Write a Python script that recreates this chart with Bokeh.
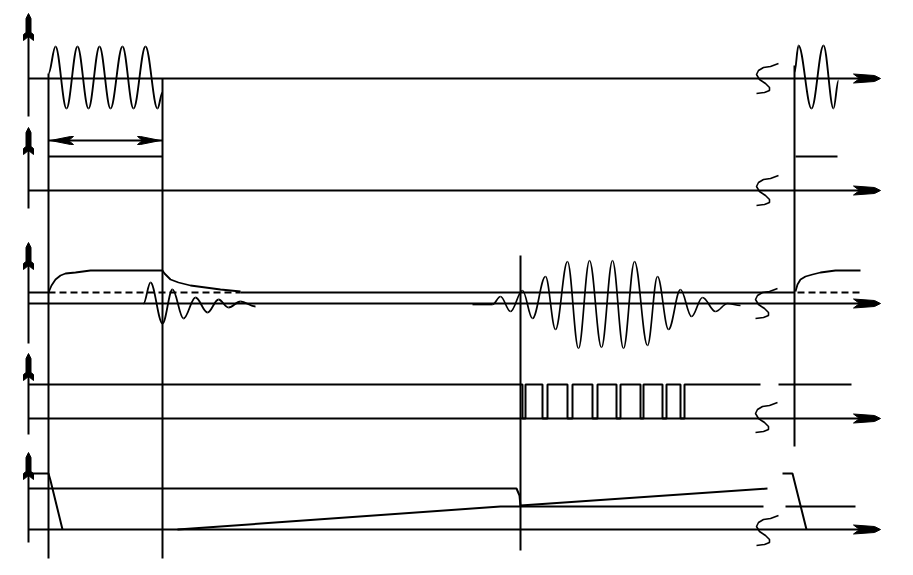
from bokeh.plotting import figure
from bokeh.models import Range1d
from bokeh.embed import file_html
from bokeh.resources import INLINE

# ---------------- data (diagram units: x = time, y = level, y grows downward) ----------------
axis_x = 28
arrow_end_x = 880
# channel: top of vertical axis, bottom of vertical axis, baseline
ch_top = [13, 127, 242, 353, 452]
ch_bottom = [116, 208, 343, 434, 542]
ch_base = [78, 190, 303, 418, 529]
break_x = [767, 767, 766, 766, 767]
break_y = [78, 190, 303, 417, 530]

# timing marker verticals (x, y_from, y_to)
mark_x = [48, 162, 520, 794]
mark_y0 = [73, 78, 255, 65]
mark_y1 = [558, 558, 550, 446]

# channel 1: transmit bursts (extrema)
tx1_x = [48, 55, 66, 77, 88, 99, 110, 122, 133, 145, 157, 162]
tx1_y = [73, 46, 108, 46, 108, 46, 108, 46, 108, 46, 108, 92]
tx2_x = [794, 798, 811, 823, 833, 838]
tx2_y = [72, 45, 108, 45, 108, 80]

# channel 2: gate level + width arrow
gate_x = [48, 162]
gate_y = [156, 156]
gate2_x = [795, 837]
gate2_y = [156, 156]
width_arrow_y = 140

# channel 3: envelope / ringing / echo burst
env1_x = [48, 51, 55, 60, 65, 75, 90, 162]
env1_y = [292, 285, 279, 275, 273, 272, 270, 270]
decay_x = [162, 164, 170, 178, 190, 205, 220, 240]
decay_y = [270, 273, 279, 282, 285, 287, 289, 291]
env2_x = [795, 797, 800, 805, 812, 820, 835, 860]
env2_y = [291, 284, 279, 276, 274, 272, 270, 270]
thr_y = 292
ring_x = [143, 150, 162, 172, 183, 195, 207, 218, 228, 240, 255]
ring_y = [303, 282, 323, 289, 318, 297, 312, 299, 307, 301, 306]
echo_x = [472, 492, 500, 510, 522, 532, 545, 555, 567, 578, 589, 601, 612, 623, 634,
          647, 657, 668, 680, 691, 702, 715, 727, 740]
echo_y = [304, 304, 296, 311, 290, 318, 276, 329, 261, 348, 260, 347, 260, 348, 261,
          345, 276, 329, 289, 316, 297, 311, 303, 305]

# channel 4: comparator pulses (transition times)
pulse_edges = [522, 525, 542, 547, 567, 572, 592, 597, 616, 620, 640, 643, 662, 666, 680, 684]
pulse_hi = 384
pulse_end = 760
pulse2_x = [778, 851]

# channel 5: ramp signals
lvl5_x = [28, 48, 50, 62]
lvl5_y = [473, 473, 480, 529]
ref5_x = [28, 516, 519, 520]
ref5_y = [488, 488, 495, 506]
ramp1_x = [177, 500, 763]
ramp1_y = [529, 506, 506]
ramp2_x = [520, 767]
ramp2_y = [505, 488]
lvl5b_x = [782, 792, 806]
lvl5b_y = [473, 473, 529]
ref5b_x = [785, 855]
ref5b_y = [506, 506]

# ---------------- drawing ----------------
p = figure(width=913, height=575, x_range=Range1d(0, 913), y_range=Range1d(575, 0),
           output_backend="svg", toolbar_location=None, min_border=0)
p.axis.visible = False
p.grid.visible = False
p.outline_line_color = None
p.background_fill_color = "white"
p.border_fill_color = "white"

K = "black"
LW = 2


def bez(xs, ys, lw):
    x0, y0, x1, y1, cx0, cy0, cx1, cy1 = [], [], [], [], [], [], [], []
    for i in range(len(xs) - 1):
        a, b = xs[i], xs[i + 1]
        d = (b - a) * 0.3642
        x0.append(a); y0.append(ys[i]); x1.append(b); y1.append(ys[i + 1])
        cx0.append(a + d); cy0.append(ys[i]); cx1.append(b - d); cy1.append(ys[i + 1])
    p.bezier(x0=x0, y0=y0, x1=x1, y1=y1, cx0=cx0, cy0=cy0, cx1=cx1, cy1=cy1,
             line_color=K, line_width=lw)


# axes, baselines, arrows
sx = [11, 3, -4, -9, -11, -8, -2, 2, 2, -3, -11]
sy = [-15, -12, -11, -8, -4, 1, 5, 9, 12, 14, 15]
for i in range(5):
    p.segment(x0=[axis_x], y0=[ch_top[i] + 4], x1=[axis_x], y1=[ch_bottom[i]], line_color=K, line_width=LW)
    p.segment(x0=[axis_x], y0=[ch_base[i]], x1=[arrow_end_x - 4], y1=[ch_base[i]], line_color=K, line_width=LW)
    t = ch_top[i]
    c = axis_x
    p.patch(x=[c, c + 2.5, c + 2.5, c + 5, c + 5, c, c - 5, c - 5, c - 2.5, c - 2.5],
            y=[t, t + 5, t + 19, t + 21, t + 27, t + 23, t + 27, t + 21, t + 19, t + 5], color=K)
    b = ch_base[i]
    p.patch(x=[853, 859, 853, 874, arrow_end_x, 874], y=[b - 4.5, b, b + 4.5, b + 3, b, b - 3], color=K)
    # break symbol
    bx, by = break_x[i], break_y[i]
    p.line([bx + v for v in sx], [by + v for v in sy], line_color=K, line_width=1.6)

# markers
p.segment(x0=mark_x, y0=mark_y0, x1=mark_x, y1=mark_y1, line_color=K, line_width=LW)

# ch1
bez(tx1_x, tx1_y, 1.9)
bez(tx2_x, tx2_y, 1.9)

# ch2
p.line(gate_x, gate_y, line_color=K, line_width=LW)
p.line(gate2_x, gate2_y, line_color=K, line_width=LW)
p.segment(x0=[gate_x[0]], y0=[width_arrow_y], x1=[gate_x[1]], y1=[width_arrow_y], line_color=K, line_width=LW)
a0, a1 = gate_x
yy = width_arrow_y
p.patch(x=[a0 + 2, a0 + 22, a0 + 25, a0 + 20, a0 + 25, a0 + 22],
        y=[yy, yy - 4, yy - 4, yy, yy + 4, yy + 4], color=K)
p.patch(x=[a1 - 2, a1 - 22, a1 - 25, a1 - 20, a1 - 25, a1 - 22],
        y=[yy, yy - 4, yy - 4, yy, yy + 4, yy + 4], color=K)

# ch3
p.line(env1_x, env1_y, line_color=K, line_width=1.8)
p.line(decay_x, decay_y, line_color=K, line_width=1.8)
p.line(env2_x, env2_y, line_color=K, line_width=1.8)
p.segment(x0=[axis_x, 240], y0=[thr_y, thr_y], x1=[48, mark_x[3]], y1=[thr_y, thr_y], line_color=K, line_width=LW)
p.segment(x0=[48, 797], y0=[thr_y, thr_y], x1=[240, 860], y1=[thr_y, thr_y], line_color=K,
          line_width=LW, line_dash="7 4")
bez(ring_x, ring_y, 1.8)
bez(echo_x, echo_y, 1.7)

# ch4
px = [axis_x]
py = [pulse_hi]
lo = ch_base[3]
state_hi = True
for e in pulse_edges:
    px += [e, e]
    if state_hi:
        py += [pulse_hi, lo]
    else:
        py += [lo, pulse_hi]
    state_hi = not state_hi
px.append(pulse_end)
py.append(pulse_hi)
p.line(px, py, line_color=K, line_width=LW)
p.line(pulse2_x, [pulse_hi, pulse_hi], line_color=K, line_width=LW)

# ch5
for xs, ys in [(lvl5_x, lvl5_y), (ref5_x, ref5_y), (ramp1_x, ramp1_y), (ramp2_x, ramp2_y),
               (lvl5b_x, lvl5b_y), (ref5b_x, ref5b_y)]:
    p.line(xs, ys, line_color=K, line_width=LW)

open("out.html", "w").write(file_html(p, INLINE))
